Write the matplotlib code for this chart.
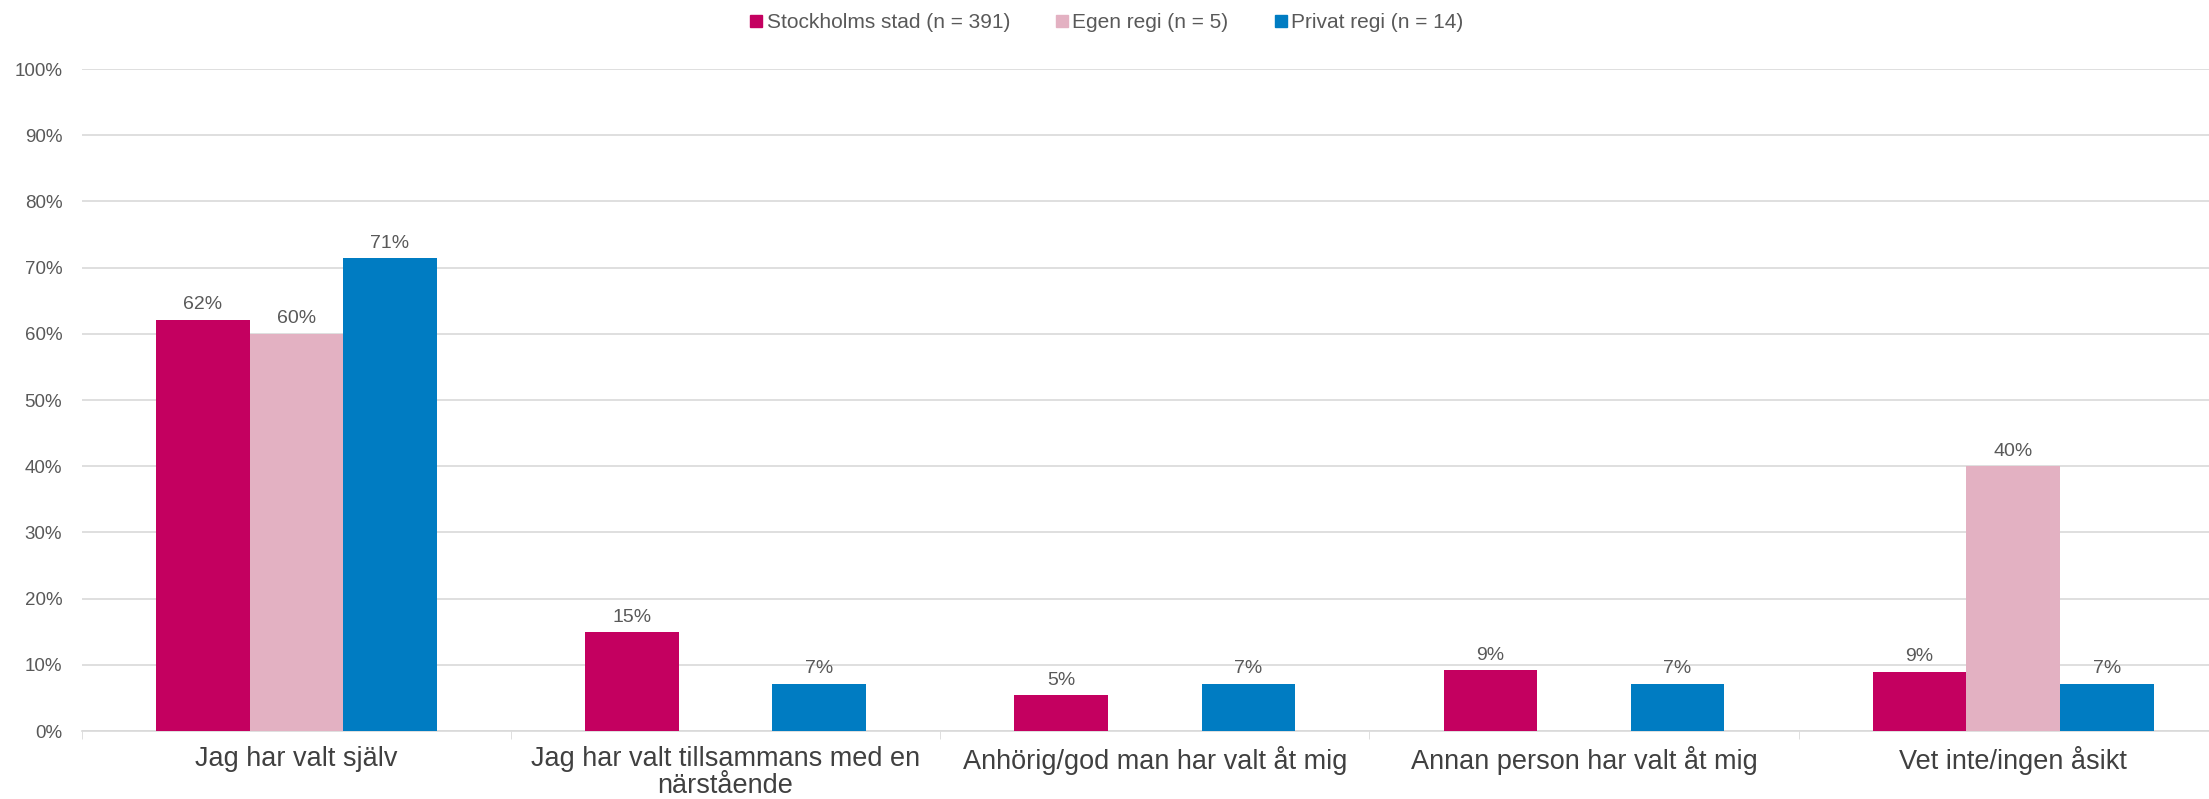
import matplotlib
matplotlib.use("Agg")
import matplotlib.pyplot as plt
import numpy as np
from matplotlib.lines import Line2D

plt.rcParams['font.family'] = ['Liberation Sans', 'DejaVu Sans']

categories = [
    'Jag har valt själv',
    'Jag har valt tillsammans med en\nnärstående',
    'Anhörig/god man har valt åt mig',
    'Annan person har valt åt mig',
    'Vet inte/ingen åsikt',
]
series_names = ['Stockholms stad (n = 391)', 'Egen regi (n = 5)', 'Privat regi (n = 14)']
stockholm = [62.1, 14.9, 5.4, 9.2, 9.0]
egen = [60.0, 0, 0, 0, 40.0]
privat = [71.4, 7.1, 7.1, 7.1, 7.1]
colors = ['#C40060', '#E3B1C2', '#007CC2']

txt = '#595959'
fig = plt.figure(figsize=(22.09, 7.99), dpi=100)
ax = fig.add_axes([0.037, 0.085, 0.9715, 0.8286])

x = np.arange(len(categories))
w = 0.218
for i, (vals, c) in enumerate(zip([stockholm, egen, privat], colors)):
    pos = x + (i - 1) * w
    for p, v in zip(pos, vals):
        if v <= 0:
            continue
        ax.bar(p, v, width=w, color=c, zorder=3)
        ax.text(p, v + 1.0, f'{v:.0f}%', ha='center', va='bottom',
                fontsize=14, color=txt)

ax.set_xlim(-0.5, len(categories) - 0.5)
ax.set_ylim(0, 100)
ax.set_yticks(np.arange(0, 101, 10))
ax.set_yticklabels([f'{v}%' for v in range(0, 101, 10)], fontsize=13.5, color=txt)
ax.grid(axis='y', color='#D9D9D9', linewidth=1.2, zorder=0)
ax.set_axisbelow(True)

ax.set_xticks(x)
ax.set_xticklabels(categories, fontsize=19.5, color='#404040', linespacing=1.05)
ax.set_xticks(np.arange(-0.5, len(categories), 1.0), minor=True)
ax.tick_params(axis='x', which='major', length=0, pad=11)
ax.tick_params(axis='x', which='minor', length=6, color='#D9D9D9')
ax.tick_params(axis='y', length=0, pad=14)

for s in ['top', 'right', 'left']:
    ax.spines[s].set_visible(False)
ax.spines['bottom'].set_color('#D9D9D9')
ax.spines['bottom'].set_linewidth(1.2)

handles = [Line2D([0], [0], marker='s', linestyle='', markersize=9,
                  markerfacecolor=c, markeredgecolor=c) for c in colors]
leg = fig.legend(handles, series_names, loc='center', bbox_to_anchor=(0.5, 0.972),
                 ncol=3, frameon=False, fontsize=15, handletextpad=0.0,
                 columnspacing=2.0, handlelength=1.0)
for t in leg.get_texts():
    t.set_color(txt)

fig.savefig('out.png', dpi=100)
